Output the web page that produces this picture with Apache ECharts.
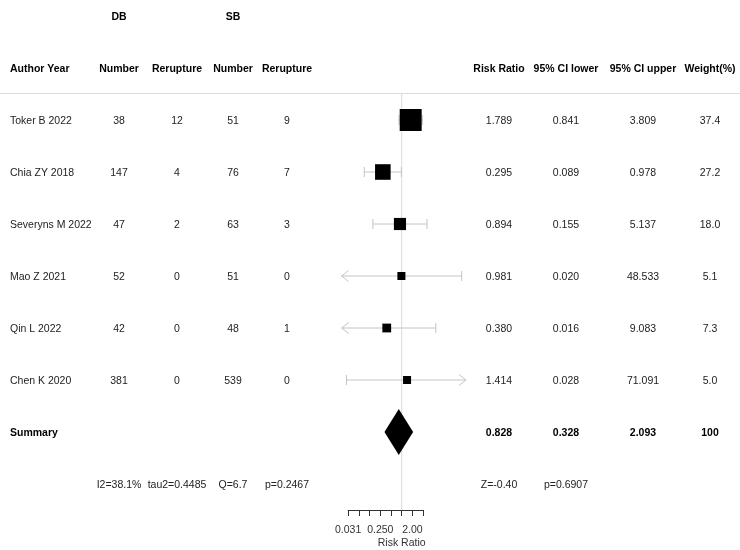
<!DOCTYPE html>
<html><head><meta charset="utf-8">
<script src="https://cdn.jsdelivr.net/npm/echarts/dist/echarts.min.js"></script>
<style>html,body{margin:0;padding:0;background:#fff}#c{width:740px;height:550px}</style>
</head><body><div id="c"></div>
<script>
// ---------------- data ----------------
const authors = ['Toker B 2022', 'Chia ZY 2018', 'Severyns M 2022', 'Mao Z 2021', 'Qin L 2022', 'Chen K 2020'];
const dbNumber = [38, 147, 47, 52, 42, 381];
const dbRerupture = [12, 4, 2, 0, 0, 0];
const sbNumber = [51, 76, 63, 51, 48, 539];
const sbRerupture = [9, 7, 3, 0, 1, 0];
const riskRatio = [1.789, 0.295, 0.894, 0.981, 0.380, 1.414];
const ciLower = [0.841, 0.089, 0.155, 0.020, 0.016, 0.028];
const ciUpper = [3.809, 0.978, 5.137, 48.533, 9.083, 71.091];
const weightPct = [37.4, 27.2, 18.0, 5.1, 7.3, 5.0];
const summaryLabel = 'Summary';
const summaryRR = 0.828;
const summaryLower = 0.328;
const summaryUpper = 2.093;
const summaryWeight = '100';
const heterogeneityStats = ['I2=38.1%', 'tau2=0.4485', 'Q=6.7', 'p=0.2467'];
const overallStats = ['Z=-0.40', 'p=0.6907'];
const groupHeaders = ['DB', 'SB'];
const columnHeaders = ['Author Year', 'Number', 'Rerupture', 'Number', 'Rerupture', 'Risk Ratio', '95% CI lower', '95% CI upper', 'Weight(%)'];
const tickValues = [0.03125, 0.25, 2];
const tickLabels = ['0.031', '0.250', '2.00'];
const axisTitle = 'Risk Ratio';
const clipRange = [0.0205, 64];

// ---------------- layout / style ----------------
const FONT = '"Liberation Sans", Arial, sans-serif';
const FS = 10.5;
const colX = [10, 119, 177, 233, 287, 499, 566, 643, 710];
const colAlign = ['left', 'center', 'center', 'center', 'center', 'center', 'center', 'center', 'center'];
const UNIT = 10.71;       // px per log2 unit
const X_ONE = 401.7;      // pixel of RR = 1
const ROW_TOP = 16, ROW_H = 52; // row -2 at y=16
const CI_COLOR = '#c4c4c4';
const TEXT_DY = 1;

const fmt3 = v => v.toFixed(3);
const cells = [];
function cell(col, r, text, bold) { cells.push({x: colX[col], align: colAlign[col], r, text: String(text), bold}); }
cell(1, -2, groupHeaders[0], true);
cell(3, -2, groupHeaders[1], true);
columnHeaders.forEach((h, c) => cell(c, -1, h, true));
authors.forEach((a, i) => {
  cell(0, i, a, false);
  cell(1, i, dbNumber[i], false);
  cell(2, i, dbRerupture[i], false);
  cell(3, i, sbNumber[i], false);
  cell(4, i, sbRerupture[i], false);
  cell(5, i, fmt3(riskRatio[i]), false);
  cell(6, i, fmt3(ciLower[i]), false);
  cell(7, i, fmt3(ciUpper[i]), false);
  cell(8, i, weightPct[i].toFixed(1), false);
});
cell(0, 6, summaryLabel, true);
cell(5, 6, fmt3(summaryRR), true);
cell(6, 6, fmt3(summaryLower), true);
cell(7, 6, fmt3(summaryUpper), true);
cell(8, 6, summaryWeight, true);
heterogeneityStats.forEach((s, k) => cell(1 + k, 7, s, false));
overallStats.forEach((s, k) => cell(5 + k, 7, s, false));

const L2 = Math.log2;
const CLIP_LO = L2(clipRange[0]), CLIP_HI = L2(clipRange[1]);
function boxSize(i) {
  const se = (Math.log(ciUpper[i]) - Math.log(ciLower[i])) / 3.92;
  return 4.67 + 6.67 / se;
}

const chart = echarts.init(document.getElementById('c'), null, {renderer: 'canvas'});
const gridTop = ROW_TOP, gridH = ROW_H * 9;
const option = {
  animation: false,
  backgroundColor: '#fff',
  grid: [
    {left: 0, top: gridTop, width: 740, height: gridH, containLabel: false, outerBoundsMode: 'none'},
    {left: X_ONE - 6 * UNIT, top: gridTop, width: 12 * UNIT, height: gridH, containLabel: false, outerBoundsMode: 'none'},
    {left: X_ONE - 5 * UNIT, top: 509, width: 7 * UNIT, height: 1, containLabel: false, outerBoundsMode: 'none'}
  ],
  xAxis: [
    {gridIndex: 0, type: 'value', min: 0, max: 740, show: false},
    {gridIndex: 1, type: 'value', min: -6, max: 6, show: true,
      axisLine: {show: false}, axisTick: {show: false}, axisLabel: {show: false}, splitLine: {show: false},
      name: axisTitle, nameLocation: 'middle', nameGap: 54,
      nameTextStyle: {fontFamily: FONT, fontSize: FS, color: '#333'}},
    {gridIndex: 2, type: 'value', min: -5, max: 2, interval: 1, position: 'bottom',
      axisLine: {show: true, onZero: false, lineStyle: {color: '#333', width: 1}},
      axisTick: {show: true, length: 6, lineStyle: {color: '#333', width: 1}},
      splitLine: {show: false},
      axisLabel: {show: true, margin: 15, color: '#333', fontFamily: FONT, fontSize: FS,
        showMinLabel: true, showMaxLabel: true, interval: 0,
        formatter: v => { const k = tickValues.findIndex(t => Math.abs(L2(t) - v) < 1e-6); return k >= 0 ? tickLabels[k] : ''; }}}
  ],
  yAxis: [
    {gridIndex: 0, type: 'value', min: -2, max: 7, inverse: true, show: false},
    {gridIndex: 1, type: 'value', min: -2, max: 7, inverse: true, show: false},
    {gridIndex: 2, type: 'value', min: 0, max: 1, show: false}
  ],
  series: [
    { // header separator line
      type: 'custom', xAxisIndex: 0, yAxisIndex: 0, data: [[0, -0.5]], silent: true, z: 1,
      renderItem: (p, api) => {
        const a = api.coord([0, -0.5]), b = api.coord([740, -0.5]);
        return {type: 'line', shape: {x1: a[0], y1: a[1] - 0.5, x2: b[0], y2: b[1] - 0.5}, style: {stroke: '#dcdcdc', lineWidth: 1}};
      }
    },
    { // reference line at RR = 1
      type: 'custom', xAxisIndex: 1, yAxisIndex: 1, data: [[0, -0.5]], silent: true, z: 1,
      renderItem: (p, api) => {
        const a = api.coord([0, -0.5]), b = api.coord([0, 7.5]);
        return {type: 'line', shape: {x1: a[0], y1: a[1] - 1, x2: b[0], y2: b[1]}, style: {stroke: '#d9d9d9', lineWidth: 1}};
      }
    },
    { // study CIs and boxes
      type: 'custom', xAxisIndex: 1, yAxisIndex: 1, silent: true, z: 2,
      data: riskRatio.map((v, i) => [L2(v), i]),
      renderItem: (p, api) => {
        const i = p.dataIndex;
        const lo = L2(ciLower[i]), hi = L2(ciUpper[i]), m = L2(riskRatio[i]);
        const loC = Math.max(lo, CLIP_LO), hiC = Math.min(hi, CLIP_HI);
        const y = api.coord([0, i])[1];
        const xl = api.coord([loC, i])[0], xh = api.coord([hiC, i])[0], xm = api.coord([m, i])[0];
        const st = {stroke: CI_COLOR, lineWidth: 1, fill: null};
        const ch = [{type: 'line', shape: {x1: xl, y1: y, x2: xh, y2: y}, style: st}];
        if (lo < CLIP_LO) ch.push({type: 'polyline', shape: {points: [[xl + 7, y - 5.5], [xl, y], [xl + 7, y + 5.5]]}, style: st});
        else ch.push({type: 'line', shape: {x1: xl, y1: y - 5, x2: xl, y2: y + 5}, style: st});
        if (hi > CLIP_HI) ch.push({type: 'polyline', shape: {points: [[xh - 7, y - 5.5], [xh, y], [xh - 7, y + 5.5]]}, style: st});
        else ch.push({type: 'line', shape: {x1: xh, y1: y - 5, x2: xh, y2: y + 5}, style: st});
        const s = boxSize(i);
        ch.push({type: 'rect', shape: {x: xm - s / 2, y: y - s / 2, width: s, height: s}, style: {fill: '#000'}});
        return {type: 'group', children: ch};
      }
    },
    { // summary diamond
      type: 'custom', xAxisIndex: 1, yAxisIndex: 1, silent: true, z: 3,
      data: [[L2(summaryRR), 6]],
      renderItem: (p, api) => {
        const c = api.coord([L2(summaryRR), 6]);
        const xl = api.coord([L2(summaryLower), 6])[0], xh = api.coord([L2(summaryUpper), 6])[0];
        const h = 23;
        return {type: 'polygon', shape: {points: [[xl, c[1]], [c[0], c[1] - h], [xh, c[1]], [c[0], c[1] + h]]}, style: {fill: '#000'}};
      }
    },
    { // table text
      type: 'custom', xAxisIndex: 0, yAxisIndex: 0, silent: true, z: 4,
      data: cells.map(c => [c.x, c.r]),
      renderItem: (p, api) => {
        const c = cells[p.dataIndex];
        const pt = api.coord([c.x, c.r]);
        return {type: 'text', x: pt[0], y: pt[1] + TEXT_DY, style: {
          text: c.text, fill: c.bold ? '#000' : '#222', fontFamily: FONT, fontSize: FS,
          fontWeight: c.bold ? 'bold' : 'normal', align: c.align, verticalAlign: 'middle'}};
      }
    }
  ]
};
chart.setOption(option);
</script></body></html>
